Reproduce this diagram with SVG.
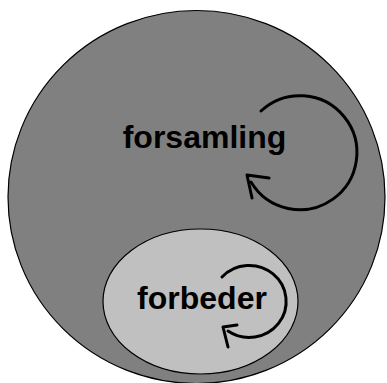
<svg xmlns="http://www.w3.org/2000/svg" width="387" height="383" viewBox="0 0 387 383">
<style>
.outer{fill:#808080;stroke:#000;stroke-width:1.2}
.inner{fill:#c0c0c0;stroke:#000;stroke-width:1.2}
.lbl{font-family:"Liberation Sans",Arial,sans-serif;font-weight:bold;font-size:32px;fill:#000;text-anchor:middle}
.loop{fill:none;stroke:#000;stroke-width:3;stroke-linecap:round;stroke-linejoin:round}
</style>
<rect width="387" height="383" fill="#fff"/>
<g id="forsamling">
<ellipse class="outer" cx="196.5" cy="197" rx="188.5" ry="186.5"/>
<text class="lbl" x="204.5" y="148">forsamling</text>
</g>
<g id="forbeder">
<ellipse class="inner" cx="200.5" cy="301.5" rx="97.5" ry="72.5"/>
<text class="lbl" x="202" y="309">forbeder</text>
</g>
<g id="connectors">
<path class="loop" d="M 261 111 A 57 57 0 1 1 251 182"/>
<polyline class="loop" points="269,178 247,175 252,198"/>
<path class="loop" d="M 222 277 A 37 36 0 1 1 228 331"/>
<polyline class="loop" points="237,325 223,327 228,347"/>
</g>
</svg>
